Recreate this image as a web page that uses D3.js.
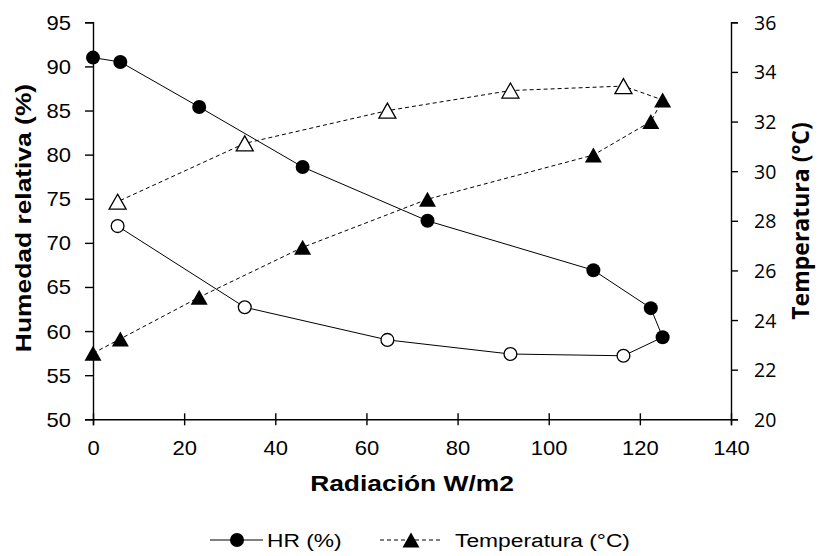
<!DOCTYPE html>
<html>
<head>
<meta charset="utf-8">
<script src="https://cdn.jsdelivr.net/npm/d3@7"></script>
<style>
  html, body { margin: 0; padding: 0; background: #fff; }
  svg { display: block; }
</style>
</head>
<body>
<script>
// Radiación solar (W/m2) a lo largo del día: subida por la mañana y bajada por la tarde
const radiacion = [0, 6, 23.3, 46, 73.4, 109.8, 122.4, 125, 116.4, 91.6, 64.6, 33.3, 5.4];
// Humedad relativa (%)
const humedad = [91.0, 90.5, 85.4, 78.6, 72.5, 66.9, 62.6, 59.3, 57.2, 57.4, 59.0, 62.7, 71.9];
// Temperatura (°C)
const temperatura = [22.66, 23.24, 24.92, 26.93, 28.87, 30.65, 32.0, 32.87, 33.43, 33.25, 32.44, 31.12, 28.77];
// true = mañana (marcador relleno), false = tarde (marcador hueco)
const manana = [true, true, true, true, true, true, true, true, false, false, false, false, false];

const xTicks = [0, 20, 40, 60, 80, 100, 120, 140];
const hrTicks = [50, 55, 60, 65, 70, 75, 80, 85, 90, 95];
const tTicks = [20, 22, 24, 26, 28, 30, 32, 34, 36];

const W = 819, H = 556;
const plot = { left: 93, right: 731, top: 22.3, bottom: 419.3 };
const ARIAL = "'Liberation Sans', Arial, sans-serif";
const OPEN = "'Open Sans', 'DejaVu Sans', sans-serif";
const STRETCH = 1.2;

const svg = d3.select("body").append("svg")
  .attr("width", W).attr("height", H)
  .attr("viewBox", `0 0 ${W} ${H}`);

const x = d3.scaleLinear().domain([0, 140]).range([plot.left, plot.right]);
const yL = d3.scaleLinear().domain([50, 95]).range([plot.bottom, plot.top]);
const yR = d3.scaleLinear().domain([20, 36]).range([plot.bottom, plot.top]);

const rows = radiacion.map((r, i) => ({ r, hr: humedad[i], t: temperatura[i], am: manana[i] }));

// ---- Axes ----
const gx = svg.append("g")
  .attr("transform", `translate(0,${plot.bottom})`)
  .call(d3.axisBottom(x).tickValues(xTicks).tickSizeOuter(0).tickSize(6));
gx.selectAll(".tick line").attr("y1", -6).attr("y2", 6);
gx.selectAll(".tick text")
  .attr("y", 35.5).attr("dy", 0)
  .attr("transform", "scale(1.1,1)");

const gl = svg.append("g")
  .attr("transform", `translate(${plot.left},0)`)
  .call(d3.axisLeft(yL).tickValues(hrTicks).tickSizeOuter(0).tickSize(8));
gl.selectAll(".tick text")
  .attr("x", -22 / 1.1).attr("dy", "0.35em")
  .attr("transform", "scale(1.1,1)");

const gr = svg.append("g")
  .attr("transform", `translate(${plot.right},0)`)
  .call(d3.axisRight(yR).tickValues(tTicks).tickSizeOuter(0).tickSize(7));
gr.selectAll(".tick text")
  .attr("x", 23).attr("dy", "0.36em");

[gx, gl].forEach(g => g.selectAll("text")
  .attr("font-family", ARIAL).attr("font-size", 20).attr("fill", "#000"));
gr.selectAll("text")
  .attr("font-family", OPEN).attr("font-size", 19.5).attr("fill", "#000");
[gx, gl, gr].forEach(g => {
  g.selectAll("path.domain").attr("stroke", "#000").attr("stroke-width", 1.4);
  g.selectAll(".tick line").attr("stroke", "#000").attr("stroke-width", 1.4);
});

// ---- Series ----
const triPath = "M0,-7.5L8.5,7.5L-8.5,7.5Z";

const lineHR = d3.line().x(d => x(d.r)).y(d => yL(d.hr));
const lineT = d3.line().x(d => x(d.r)).y(d => yR(d.t));

svg.append("path").datum(rows)
  .attr("d", lineHR).attr("fill", "none")
  .attr("stroke", "#000").attr("stroke-width", 1);

svg.append("g").selectAll("circle").data(rows).join("circle")
  .attr("cx", d => x(d.r)).attr("cy", d => yL(d.hr))
  .attr("r", d => d.am ? 7 : 6.4)
  .attr("fill", d => d.am ? "#000" : "#fff")
  .attr("stroke", "#000").attr("stroke-width", d => d.am ? 0 : 1.3);

svg.append("path").datum(rows)
  .attr("d", lineT).attr("fill", "none")
  .attr("stroke", "#000").attr("stroke-width", 1)
  .attr("stroke-dasharray", "4,3");

svg.append("g").selectAll("path").data(rows).join("path")
  .attr("d", triPath)
  .attr("transform", d => `translate(${x(d.r)},${yR(d.t)})`)
  .attr("fill", d => d.am ? "#000" : "#fff")
  .attr("stroke", "#000").attr("stroke-width", d => d.am ? 0 : 1.3)
  .attr("stroke-linejoin", "miter");

// ---- Axis titles ----
svg.append("text")
  .attr("transform", `translate(412,491) scale(${STRETCH},1)`)
  .attr("text-anchor", "middle")
  .attr("font-family", ARIAL).attr("font-weight", "bold").attr("font-size", 22)
  .text("Radiación W/m2");

svg.append("text")
  .attr("transform", `translate(31,218) rotate(-90) scale(${STRETCH},1)`)
  .attr("text-anchor", "middle")
  .attr("font-family", ARIAL).attr("font-weight", "bold").attr("font-size", 22)
  .text("Humedad relativa (%)");

svg.append("text")
  .attr("transform", "translate(809,221) rotate(-90)")
  .attr("text-anchor", "middle")
  .attr("font-family", OPEN).attr("font-weight", "bold").attr("font-size", 23)
  .text("Temperatura (°C)");

// ---- Legend ----
const legY = 547;
const leg = svg.append("g");
leg.append("line").attr("x1", 210).attr("x2", 263)
  .attr("y1", legY - 7).attr("y2", legY - 7)
  .attr("stroke", "#000").attr("stroke-width", 1);
leg.append("circle").attr("cx", 237).attr("cy", legY - 7).attr("r", 7).attr("fill", "#000");
leg.append("text")
  .attr("transform", `translate(267,${legY}) scale(${STRETCH},1)`)
  .attr("font-family", ARIAL).attr("font-size", 19)
  .text("HR (%)");

leg.append("line").attr("x1", 380).attr("x2", 442)
  .attr("y1", legY - 7).attr("y2", legY - 7)
  .attr("stroke", "#000").attr("stroke-width", 1)
  .attr("stroke-dasharray", "4,3");
leg.append("path").attr("d", triPath)
  .attr("transform", `translate(411,${legY - 7})`).attr("fill", "#000");
leg.append("text")
  .attr("transform", `translate(455,${legY}) scale(${STRETCH},1)`)
  .attr("font-family", ARIAL).attr("font-size", 19)
  .text("Temperatura (°C)");
</script>
</body>
</html>
